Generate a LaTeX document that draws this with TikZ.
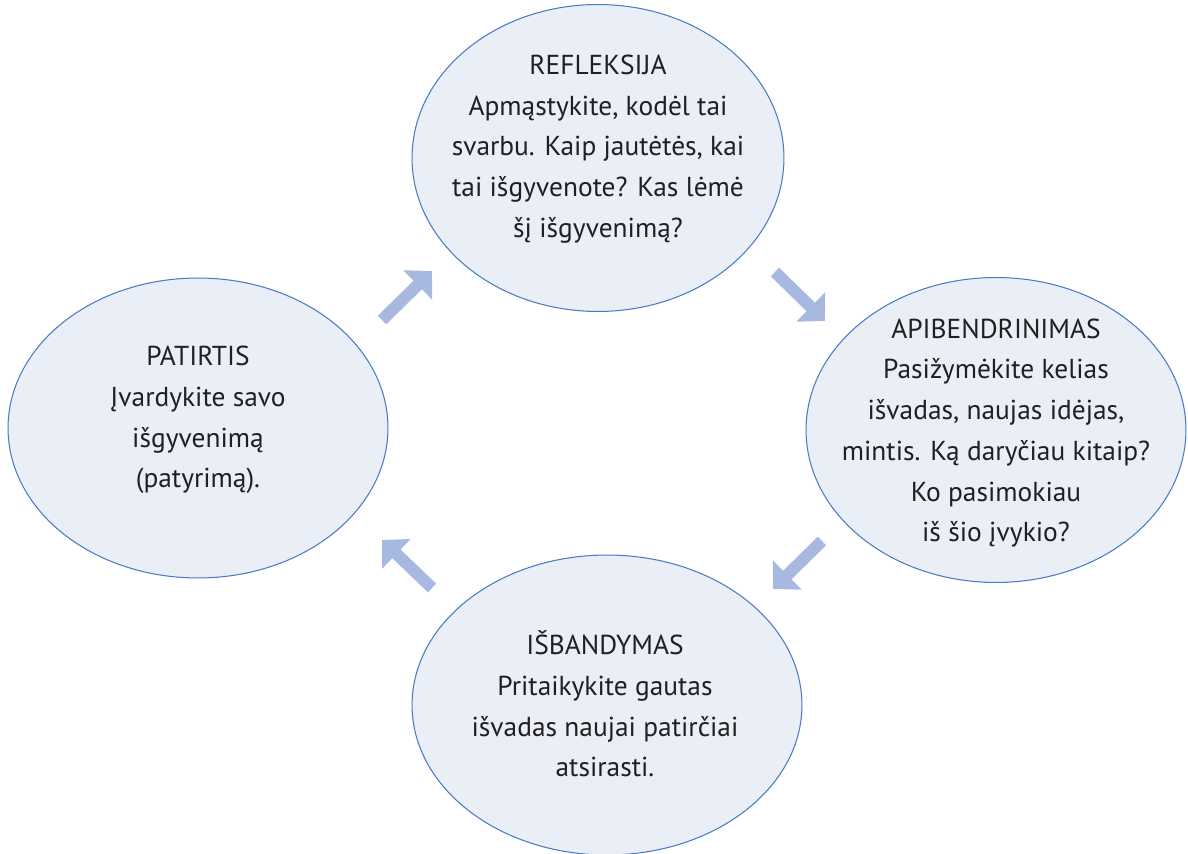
\documentclass[tikz,border=0pt]{standalone}
\usepackage{fontspec}
\setmainfont{PT Sans}
\usetikzlibrary{arrows.meta,positioning,shapes.geometric}
\definecolor{ink}{HTML}{231F20}
\definecolor{rim}{HTML}{4A7CC4}
\definecolor{blobfill}{HTML}{E9EEF7}
\definecolor{flow}{HTML}{A7B9E0}
\tikzset{
  stage/.style={ellipse, draw=rim, fill=blobfill, line width=0.6pt, inner sep=0pt},
  stagetxt/.style={align=center, text=ink, inner sep=0pt,
                   font=\fontsize{15.6}{23.2}\selectfont},
  ar/.style={-{Triangle[length=4mm, width=8mm]}, line width=2.4mm, draw=flow}
}
\begin{document}
\begin{tikzpicture}[x=0.02cm,y=-0.02cm]
  \useasboundingbox (0,0) rectangle (1188,854);

  % the four stages
  \node[stage, minimum width=7.44cm, minimum height=6.14cm] (refl) at (598,158) {};
  \node[stage, minimum width=7.6cm, minimum height=6.0cm] (pat) at (198,428) {};
  \node[stage, minimum width=7.6cm, minimum height=6.1cm] (apib) at (996,430) {};
  \node[stage, minimum width=7.8cm, minimum height=6.0cm] (isb) at (607,705) {};

  \node[stagetxt] (refltxt) at (598,149)
      {REFLEKSIJA\\Apmąstykite, kodėl tai\\svarbu. Kaip jautėtės, kai\\tai išgyvenote? Kas lėmė\\šį išgyvenimą?};
  \node[stagetxt] (pattxt) at (198,420)
      {PATIRTIS\\Įvardykite savo\\išgyvenimą\\(patyrimą).};
  \node[stagetxt] (apibtxt) at (996,433)
      {APIBENDRINIMAS\\Pasižymėkite kelias\\išvadas, naujas idėjas,\\mintis. Ką daryčiau kitaip?\\Ko pasimokiau\\iš šio įvykio?};
  \node[stagetxt] (isbtxt) at (605,704)
      {IŠBANDYMAS\\Pritaikykite gautas\\išvadas naujai patirčiai\\atsirasti.};

  % arrows between them
  \coordinate (a1) at (382,320); \coordinate (b1) at (432,271);
  \coordinate (a2) at (775,272); \coordinate (b2) at (825,321);
  \coordinate (a3) at (822,541); \coordinate (b3) at (773,589);
  \coordinate (a4) at (432,588); \coordinate (b4) at (382,540);
  \foreach \i in {1,...,4} {
     \draw[ar] (a\i) -- (b\i);
  }
\end{tikzpicture}
\end{document}
